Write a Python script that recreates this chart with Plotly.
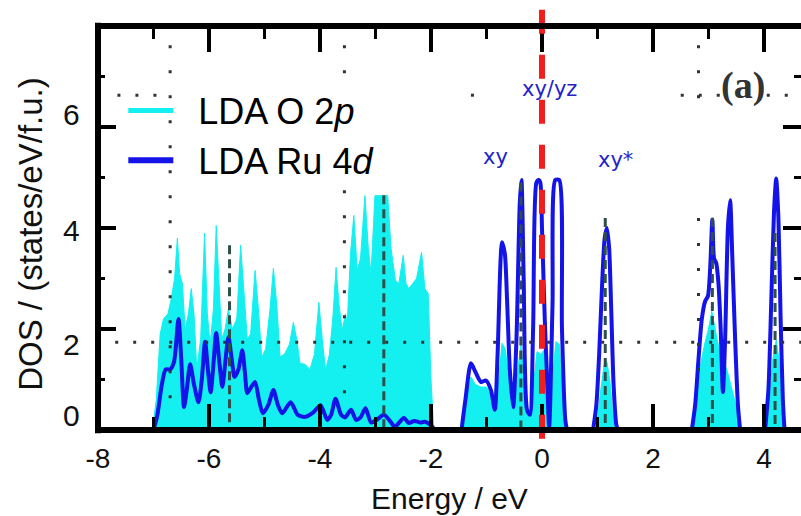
import plotly.graph_objects as go

# ---------------- data ----------------
# O 2p DOS (cyan filled), by energy window
o2p_val_E = [-7.02, -6.95, -6.88, -6.82, -6.74, -6.68, -6.62, -6.57, -6.53, -6.48, -6.43, -6.37,
             -6.32, -6.27, -6.22, -6.15, -6.08, -6.03, -5.98, -5.92, -5.87, -5.82, -5.77, -5.71,
             -5.65, -5.58, -5.50, -5.43, -5.37, -5.31, -5.25, -5.17, -5.11, -5.05, -4.98, -4.90,
             -4.84, -4.78, -4.72, -4.64, -4.55, -4.48, -4.42, -4.36, -4.27, -4.18, -4.10, -4.02,
             -3.96, -3.90, -3.83, -3.77, -3.71, -3.66, -3.60, -3.54, -3.51, -3.45, -3.39, -3.33,
             -3.27, -3.19, -3.13, -3.08, -3.01, -2.95, -2.87, -2.78, -2.72, -2.64, -2.58, -2.50,
             -2.45, -2.40, -2.33, -2.26, -2.17, -2.11, -2.05, -2.00, -1.95]
o2p_val_dos = [0.0, 0.6, 1.9, 2.2, 2.3, 2.6, 3.0, 3.8, 3.1, 2.9, 2.0, 2.3,
               2.8, 2.3, 1.2, 1.8, 3.9, 2.3, 1.7, 2.4, 4.05, 2.8, 1.8, 2.0,
               2.4, 2.0, 2.2, 3.66, 2.8, 1.8, 1.9, 3.16, 2.4, 1.44, 1.6, 2.4,
               3.2, 2.5, 1.45, 1.5, 1.7, 2.13, 1.8, 1.32, 1.3, 1.2, 1.5, 2.53,
               1.8, 1.19, 1.5, 2.2, 3.22, 2.5, 1.98, 2.3, 2.1, 3.5, 4.25, 3.16,
               3.4, 4.64, 3.6, 3.1, 4.64, 4.64, 4.64, 4.64, 3.6, 2.96, 2.9, 3.46,
               2.9, 2.8, 2.9, 3.0, 3.52, 2.8, 2.7, 1.0, 0.0]
o2p_t2g_E = [-1.45, -1.38, -1.28, -1.20, -1.10, -1.00, -0.92, -0.85, -0.78, -0.72, -0.66, -0.60,
             -0.52, -0.45, -0.38, -0.32, -0.27, -0.20, -0.14, -0.09, -0.02, 0.05, 0.10, 0.13,
             0.19, 0.25, 0.31, 0.36, 0.42, 0.45]
o2p_t2g_dos = [0.0, 0.5, 1.05, 0.9, 0.85, 0.85, 0.7, 0.33, 1.0, 1.72, 1.6, 1.0,
               0.4, 1.0, 1.7, 1.0, 0.3, 0.4, 1.0, 1.55, 1.5, 1.6, 0.7, 0.04,
               1.0, 1.75, 1.7, 1.0, 0.15, 0.0]
o2p_xy_E = [0.96, 1.01, 1.06, 1.12, 1.17, 1.22, 1.27, 1.32]
o2p_xy_dos = [0.0, 0.3, 0.8, 1.3, 1.35, 1.0, 0.4, 0.0]
o2p_eg_E = [2.70, 2.78, 2.85, 2.93, 3.00, 3.06, 3.12, 3.19, 3.26, 3.33, 3.40, 3.47, 3.53, 3.58]
o2p_eg_dos = [0.0, 0.7, 1.25, 1.7, 2.0, 2.35, 2.0, 1.6, 1.4, 1.2, 0.9, 0.6, 0.25, 0.0]
o2p_hi_E = [4.05, 4.10, 4.16, 4.22, 4.27, 4.32, 4.36]
o2p_hi_dos = [0.0, 0.6, 1.4, 1.78, 1.4, 0.6, 0.0]

# Ru 4d DOS (blue line)
ru_val_E = [-7.00, -6.93, -6.85, -6.78, -6.70, -6.63, -6.55, -6.50, -6.45, -6.40, -6.34, -6.27,
            -6.19, -6.13, -6.07, -6.02, -5.97, -5.92, -5.87, -5.81, -5.76, -5.71, -5.65, -5.59,
            -5.54, -5.47, -5.40, -5.35, -5.31, -5.24, -5.17, -5.10, -5.03, -4.93, -4.84, -4.76,
            -4.68, -4.53, -4.40, -4.27, -4.12, -3.99, -3.87, -3.80, -3.72, -3.62, -3.55, -3.44,
            -3.35, -3.27, -3.18, -3.08, -2.98, -2.85, -2.72, -2.65, -2.49, -2.40, -2.30, -2.20,
            -2.10, -1.97, -1.95]
ru_val_dos = [0.0, 0.3, 0.9, 1.2, 1.2, 1.35, 2.2, 1.4, 0.45, 0.8, 1.3, 0.9,
              0.55, 1.0, 1.75, 1.2, 0.75, 1.3, 1.92, 1.3, 0.85, 1.3, 1.84, 1.4,
              1.05, 1.2, 1.58, 1.1, 0.73, 0.85, 0.95, 0.6, 0.33, 0.5, 0.79, 0.5,
              0.33, 0.55, 0.3, 0.26, 0.35, 0.49, 0.2, 0.3, 0.62, 0.3, 0.25, 0.4,
              0.2, 0.25, 0.43, 0.15, 0.2, 0.3, 0.15, 0.06, 0.24, 0.14, 0.18, 0.15,
              0.16, 0.06, 0.0]
ru_t2g_E = [-1.45, -1.38, -1.28, -1.20, -1.10, -1.01, -0.92, -0.85, -0.80, -0.72, -0.67, -0.63,
            -0.58, -0.52, -0.46, -0.40, -0.37, -0.33, -0.27, -0.22, -0.16, -0.10, -0.06, -0.03,
            0.00, 0.05, 0.10, 0.13, 0.19, 0.24, 0.31, 0.36, 0.42, 0.45]
ru_t2g_dos = [0.0, 0.6, 1.32, 1.15, 0.95, 0.98, 0.79, 0.4, 1.5, 3.72, 3.5, 2.6,
              1.2, 0.45, 1.8, 4.5, 4.95, 3.0, 0.4, 0.3, 2.0, 4.9, 4.95, 4.9,
              4.0, 2.2, 0.8, 0.05, 2.5, 4.95, 4.95, 2.0, 0.2, 0.0]
ru_xy_E = [0.92, 0.98, 1.03, 1.08, 1.13, 1.17, 1.21, 1.25, 1.29, 1.34, 1.37]
ru_xy_dos = [0.0, 0.5, 1.5, 2.8, 3.8, 4.0, 3.6, 2.3, 0.9, 0.1, 0.0]
ru_eg_E = [2.70, 2.76, 2.82, 2.88, 2.94, 2.99, 3.03, 3.07, 3.10, 3.14, 3.18, 3.22, 3.26,
           3.30, 3.35, 3.39, 3.43, 3.48, 3.53, 3.57]
ru_eg_dos = [0.0, 0.5, 1.4, 2.2, 2.55, 2.65, 3.2, 4.17, 3.4, 3.3, 2.9, 2.0, 0.75,
             1.8, 4.0, 4.55, 3.4, 1.8, 0.5, 0.0]
ru_hi_E = [4.02, 4.08, 4.13, 4.18, 4.22, 4.26, 4.30, 4.34, 4.37]
ru_hi_dos = [0.0, 0.8, 2.5, 4.3, 4.98, 4.2, 2.2, 0.6, 0.0]

series_names = ["LDA O 2<i>p</i>", "LDA Ru 4<i>d</i>"]
fermi_level = 0.0

# orbital labels
orb_labels = ["xy/yz", "xy", "xy*"]
orb_label_E = [0.14, -0.83, 1.33]
orb_label_dos = [6.75, 5.41, 5.35]
panel_label = "(a)"
panel_label_pos = (3.62, 6.83)

# axes
x_range = [-8, 4.667]
x_tick_vals = [-8, -6, -4, -2, 0, 2, 4]
x_tick_text = ["-8", "-6", "-4", "-2", "0", "2", "4"]
y_range = [0, 8]
y_tick_labels = ["0", "2", "4", "6"]
y_tick_label_pos = [0.28, 1.70, 3.96, 6.24]

# guide lines from the original figure
dot_h = [(1.74, -7.69, 4.667), (6.63, -7.65, -6.68), (6.63, -1.28, -0.98),
         (6.63, 2.50, 3.22), (6.63, 4.05, 4.667)]
dot_v = [(-6.70, 0.3, 7.62), (-3.56, 0.6, 4.75), (-3.56, 7.0, 7.62),
         (2.82, 0.75, 4.2), (2.82, 6.15, 7.62)]
dash_v = [(-5.63, 0.0, 3.66), (-2.85, 0.0, 4.65), (-0.38, 0.0, 4.9),
          (1.14, 0.0, 4.2), (3.07, 0.0, 4.2), (4.20, 0.0, 3.9)]

CYAN = "#14F0F0"
BLUE = "#1414E8"
FONT = "Arial, Liberation Sans, sans-serif"
WIDE = "DejaVu Sans, sans-serif"
NB = "\u00a0\u00a0"

fig = go.Figure()

for E, d in [(o2p_val_E, o2p_val_dos), (o2p_t2g_E, o2p_t2g_dos), (o2p_xy_E, o2p_xy_dos),
             (o2p_eg_E, o2p_eg_dos), (o2p_hi_E, o2p_hi_dos)]:
    fig.add_trace(go.Scatter(x=E, y=d, mode="lines", fill="tozeroy", fillcolor=CYAN,
                             line=dict(color=CYAN, width=1), showlegend=False,
                             hoverinfo="skip"))
for E, d in [(ru_val_E, ru_val_dos), (ru_t2g_E, ru_t2g_dos), (ru_xy_E, ru_xy_dos),
             (ru_eg_E, ru_eg_dos), (ru_hi_E, ru_hi_dos)]:
    fig.add_trace(go.Scatter(x=E, y=d, mode="lines",
                             line=dict(color=BLUE, width=4, shape="spline", smoothing=0.7),
                             showlegend=False, hoverinfo="skip"))

# legend entries
fig.add_trace(go.Scatter(x=[None], y=[None], mode="lines", name=NB + series_names[0],
                         line=dict(color=CYAN, width=5)))
fig.add_trace(go.Scatter(x=[None], y=[None], mode="lines", name=NB + series_names[1],
                         line=dict(color=BLUE, width=6)))

shapes = []
for yv, x0, x1 in dot_h:
    shapes.append(dict(type="line", xref="x", yref="y", x0=x0, x1=x1, y0=yv, y1=yv,
                       line=dict(color="#333333", width=3, dash="3px,15px"), layer="above"))
for xv, y0, y1 in dot_v:
    shapes.append(dict(type="line", xref="x", yref="y", x0=xv, x1=xv, y0=y1, y1=y0,
                       line=dict(color="#333333", width=3, dash="3px,22px"), layer="above"))
for xv, y0, y1 in dash_v:
    shapes.append(dict(type="line", xref="x", yref="y", x0=xv, x1=xv, y0=y1, y1=y0,
                       line=dict(color="#2E4F4A", width=3, dash="9px,5px"), layer="above"))
# Fermi level
shapes.append(dict(type="line", xref="x", yref="paper", x0=fermi_level, x1=fermi_level,
                   y0=1.04, y1=-0.037, line=dict(color="#F01E1E", width=6, dash="24px,21px"),
                   layer="above"))
# frame (left, bottom, top)
shapes.append(dict(type="line", xref="paper", yref="paper", x0=0, x1=0, y0=-0.008, y1=1.008,
                   line=dict(color="black", width=6), layer="above"))
shapes.append(dict(type="line", xref="paper", yref="paper", x0=-0.004, x1=1, y0=0, y1=0,
                   line=dict(color="black", width=6), layer="above"))
shapes.append(dict(type="line", xref="paper", yref="paper", x0=-0.004, x1=1, y0=1, y1=1,
                   line=dict(color="black", width=6), layer="above"))

annotations = []
for t, ex, dy in zip(orb_labels, orb_label_E, orb_label_dos):
    annotations.append(dict(text=t, x=ex, y=dy, xref="x", yref="y", showarrow=False,
                            font=dict(family=WIDE, size=21, color="#2323C8")))
annotations.append(dict(text="<b>" + panel_label + "</b>", x=panel_label_pos[0],
                        y=panel_label_pos[1], xref="x", yref="y", showarrow=False,
                        font=dict(family="Liberation Serif, Times New Roman, serif", size=38,
                                  color="#333333")))
for t, yv in zip(y_tick_labels, y_tick_label_pos):
    annotations.append(dict(text=t, x=-0.037, y=yv, xref="paper", yref="y", showarrow=False,
                            xanchor="center", yanchor="middle",
                            font=dict(family=FONT, size=30, color="#111111")))
annotations.append(dict(text="DOS / (states/eV/f.u.)", textangle=-90, x=-0.097, y=0.485,
                        xref="paper", yref="paper", showarrow=False, xanchor="center",
                        yanchor="middle", font=dict(family=FONT, size=33, color="#111111")))

fig.update_layout(
    width=801, height=516,
    margin=dict(l=98, r=0, t=26, b=86),
    paper_bgcolor="white", plot_bgcolor="white",
    shapes=shapes, annotations=annotations,
    legend=dict(x=0.036, y=0.865, xanchor="left", yanchor="top", bgcolor="rgba(0,0,0,0)",
                font=dict(family=FONT, size=36, color="black"), itemwidth=45,
                tracegroupgap=0),
    xaxis=dict(range=x_range, tickvals=x_tick_vals, ticktext=x_tick_text, ticks="inside",
               ticklen=26, tickwidth=3.5, tickcolor="black", mirror="ticks", showline=False,
               showgrid=False, zeroline=False, ticklabelstandoff=9,
               tickfont=dict(family=FONT, size=28, color="#111111"),
               minor=dict(dtick=1, tick0=-8, ticks="inside", ticklen=13, tickwidth=3,
                          tickcolor="black", showgrid=False),
               title=dict(text="Energy / eV", font=dict(family=FONT, size=30, color="#111111"),
                          standoff=14)),
    yaxis=dict(range=y_range, tick0=0, dtick=2, ticks="inside", ticklen=18, tickwidth=3.5,
               tickcolor="black", mirror="ticks", showline=False, showgrid=False,
               zeroline=False, showticklabels=False,
               minor=dict(dtick=1, tick0=0, ticks="inside", ticklen=7, tickwidth=3,
                          tickcolor="black", showgrid=False)),
)

fig.write_html("out.html")
